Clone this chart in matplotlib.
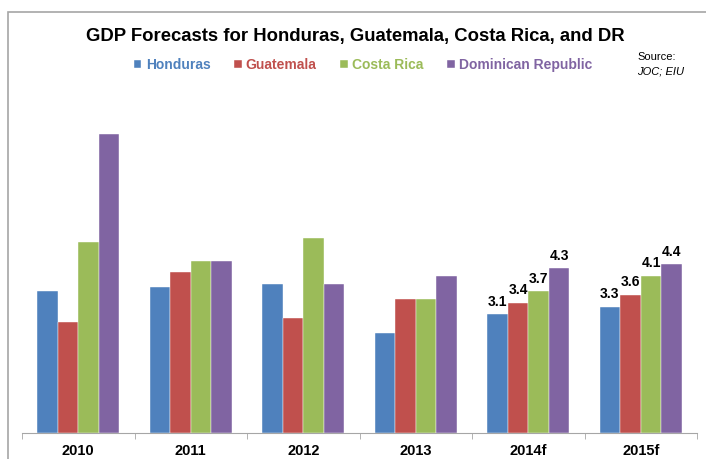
import matplotlib.pyplot as plt
import numpy as np
from matplotlib.patches import Rectangle

plt.rcParams['font.family'] = ['Liberation Sans', 'DejaVu Sans']

# Data (GDP growth, %)
years = ['2010', '2011', '2012', '2013', '2014f', '2015f']
honduras = [3.7, 3.8, 3.9, 2.6, 3.1, 3.3]
guatemala = [2.9, 4.2, 3.0, 3.5, 3.4, 3.6]
costa_rica = [5.0, 4.5, 5.1, 3.5, 3.7, 4.1]
dominican = [7.8, 4.5, 3.9, 4.1, 4.3, 4.4]

series = [
    ('Honduras', honduras, '#4F81BD'),
    ('Guatemala', guatemala, '#C0504D'),
    ('Costa Rica', costa_rica, '#9BBB59'),
    ('Dominican Republic', dominican, '#8064A2'),
]

fig = plt.figure(figsize=(7.06, 4.59), dpi=100)

# outer chart frame
fig.patches.append(Rectangle((8 / 706, -0.1), 1.1, (459 - 12) / 459 + 0.1,
                             transform=fig.transFigure, fill=False,
                             edgecolor='#A6A6A6', linewidth=1.2))

ax = fig.add_axes([22 / 706, (459 - 432.7) / 459, 675 / 706, 0.7497])

x = np.arange(len(years))
w = 0.73 / 4
handles = []
for i, (name, vals, col) in enumerate(series):
    bars = ax.bar(x - 0.365 + w * (i + 0.5), vals, width=w, color=col,
                  edgecolor='white', linewidth=0.3, label=name)
    handles.append(bars)
    labels = ['' for _ in vals[:4]] + ['%.1f' % v for v in vals[4:]]
    ax.bar_label(bars, labels=labels, padding=4, fontsize=10, fontweight='bold')

ax.set_xlim(-0.5, len(years) - 0.5)
ax.set_ylim(0, 9)
ax.set_yticks([])
for s in ['left', 'right', 'top']:
    ax.spines[s].set_visible(False)
ax.spines['bottom'].set_color('#A6A6A6')

ax.set_xticks(x)
ax.set_xticklabels(years, fontsize=10.5, fontweight='bold')
ax.tick_params(axis='x', which='major', length=0, pad=8)
ax.set_xticks(np.arange(len(years) + 1) - 0.5, minor=True)
ax.tick_params(axis='x', which='minor', length=4, color='#A6A6A6')

fig.text(355 / 706, 1 - 36 / 459, 'GDP Forecasts for Honduras, Guatemala, Costa Rica, and DR',
         ha='center', va='center', fontsize=13.3, fontweight='bold')

leg = fig.legend(handles=handles, loc='center', bbox_to_anchor=(363 / 706, 1 - 65 / 459),
                 ncol=4, frameon=False, handlelength=0.55, handleheight=0.55,
                 handletextpad=0.3, columnspacing=1.7,
                 prop={'weight': 'bold', 'size': 10})
for t, (_, _, col) in zip(leg.get_texts(), series):
    t.set_color(col)

fig.text(637 / 706, 1 - 57 / 459, 'Source:', fontsize=8, va='center')
fig.text(637 / 706, 1 - 71 / 459, 'JOC; EIU', fontsize=8, style='italic', va='center')

fig.savefig('out.png', dpi=100)
